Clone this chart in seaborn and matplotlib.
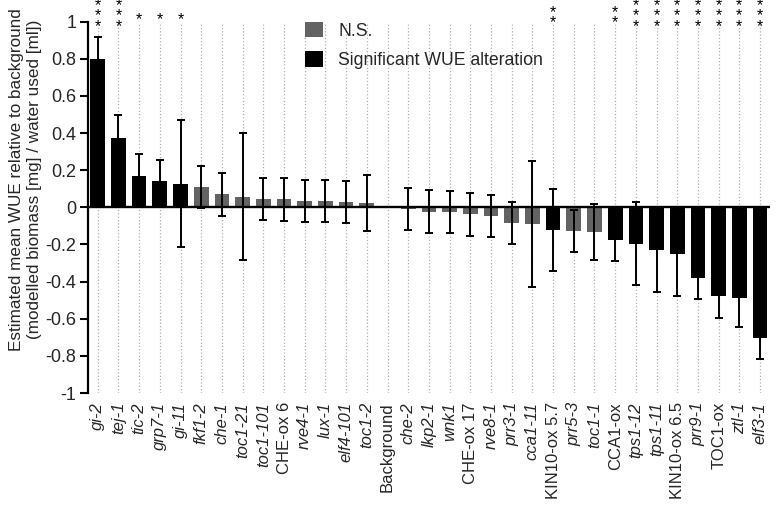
import numpy as np
import pandas as pd
import matplotlib
matplotlib.use("Agg")
import matplotlib.pyplot as plt
import matplotlib.transforms as mtransforms
from matplotlib.patches import Patch
import seaborn as sns

# ---------------- data ----------------
names = ["gi-2", "tej-1", "tic-2", "grp7-1", "gi-11", "fkf1-2", "che-1", "toc1-21",
         "toc1-101", "CHE-ox 6", "rve4-1", "lux-1", "elf4-101", "toc1-2", "Background",
         "che-2", "lkp2-1", "wnk1", "CHE-ox 17", "rve8-1", "prr3-1", "cca1-11",
         "KIN10-ox 5.7", "prr5-3", "toc1-1", "CCA1-ox", "tps1-12", "tps1-11",
         "KIN10-ox 6.5", "prr9-1", "TOC1-ox", "ztl-1", "elf3-1"]
values = [0.80, 0.373, 0.168, 0.141, 0.127, 0.109, 0.070, 0.057,
          0.046, 0.043, 0.036, 0.034, 0.029, 0.021, 0.0,
          -0.008, -0.023, -0.027, -0.038, -0.049, -0.083, -0.089,
          -0.122, -0.126, -0.135, -0.175, -0.196, -0.228,
          -0.249, -0.379, -0.478, -0.490, -0.702]
errors = [0.115, 0.125, 0.117, 0.115, 0.341, 0.115, 0.115, 0.343,
          0.114, 0.115, 0.114, 0.113, 0.114, 0.151, np.nan,
          0.112, 0.114, 0.113, 0.116, 0.113, 0.113, 0.340,
          0.223, 0.114, 0.151, 0.113, 0.224, 0.226,
          0.226, 0.113, 0.118, 0.153, 0.117]
stars = ["***", "***", "*", "*", "*", "", "", "",
         "", "", "", "", "", "", "",
         "", "", "", "", "", "", "",
         "**", "", "", "**", "***", "***",
         "***", "***", "***", "***", "***"]
legend_labels = ["N.S.", "Significant WUE alteration"]
ytick_values = [-1, -0.8, -0.6, -0.4, -0.2, 0, 0.2, 0.4, 0.6, 0.8, 1]
ytick_labels = ["-1", "-0.8", "-0.6", "-0.4", "-0.2", "0", "0.2", "0.4", "0.6", "0.8", "1"]
ylabel = "Estimated mean WUE relative to background\n(modelled biomass [mg] / water used [ml])"

groups = [legend_labels[1] if s else legend_labels[0] for s in stars]
df = pd.DataFrame({"name": names, "value": values, "group": groups})

# ---------------- style ----------------
sns.set_theme(style="white")
plt.rcParams["font.family"] = ["Liberation Sans", "DejaVu Sans"]
plt.rcParams["font.size"] = 12

fig = plt.figure(figsize=(7.82, 5.05), dpi=100)
ax = fig.add_axes([88 / 782, 1 - 393 / 505, 682 / 782, (393 - 21.7) / 505])

colors = {legend_labels[0]: "#636363", legend_labels[1]: "#000000"}

sns.barplot(data=df, x="name", y="value", hue="group", hue_order=legend_labels,
            order=names, palette=colors, dodge=False, width=0.71, saturation=1,
            errorbar=None, legend=False, linewidth=0, ax=ax)

x = np.arange(len(names))
ax.errorbar(x, values, yerr=errors, fmt="none", ecolor="black", elinewidth=1.4,
            capsize=3.2, capthick=1.4, zorder=4)

ax.axhline(0, color="black", lw=1.7, zorder=5)

ax.set_xlim(-0.47, len(names) - 1 + 0.48)
ax.set_ylim(-1, 1)
ax.set_yticks(ytick_values)
ax.set_yticklabels(ytick_labels, fontsize=13)
ax.set_xticks(x)
ax.set_xticklabels(names, rotation=90, fontsize=12)
for lbl, n in zip(ax.get_xticklabels(), names):
    if n[0].islower():
        lbl.set_fontstyle("italic")

ax.tick_params(axis="x", length=0, pad=6.5)
ax.tick_params(axis="y", length=6, width=1.5, pad=2.5, color="black", left=True, direction="out")

for s in ["top", "right", "bottom"]:
    ax.spines[s].set_visible(False)
ax.spines["left"].set_linewidth(1.6)
ax.spines["left"].set_color("black")

ax.grid(axis="x", linestyle=":", color="#b0b0b0", linewidth=0.9)
ax.grid(axis="y", visible=False)
ax.set_axisbelow(True)

ax.set_xlabel("")
ax.set_ylabel(ylabel, fontsize=12.3, linespacing=1.2)
ax.yaxis.set_label_coords(-0.068, 0.575)

# significance stars: one stacked text per column above the plot area
star_size = 11.5
spacing = 7.3
center_above = 7.2
glyph_center = 9.4
for i, s in enumerate(stars):
    k = len(s)
    if k == 0:
        continue
    bottom_center = center_above - (k - 1) / 2 * spacing
    tr = mtransforms.offset_copy(ax.transData, fig=fig, x=0, y=bottom_center - glyph_center, units="dots")
    ax.text(i, 1.0, "\n".join("*" * k), transform=tr, ha="center", va="baseline",
            multialignment="center", linespacing=0.63,
            fontsize=star_size, clip_on=False, color="black")

handles = [Patch(facecolor=colors[l], edgecolor="none", label=l) for l in legend_labels]
ax.legend(handles=handles, loc="upper left", bbox_to_anchor=(0.318, 1.0), frameon=False,
          fontsize=12.7, handlelength=1.04, handleheight=1.0, handletextpad=0.85,
          labelspacing=0.66, borderpad=0, borderaxespad=0)

fig.savefig("out.png", dpi=100)
